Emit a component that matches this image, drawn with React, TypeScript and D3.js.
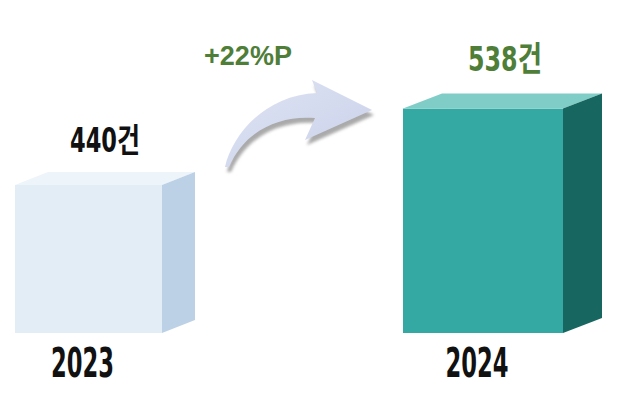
import React from 'react';
import * as d3 from 'd3';

const years = ['2023', '2024'];
const counts = [440, 538];
const valueLabels = ['440건', '538건'];
const changeLabel = '+22%P';

const W = 620;
const H = 407;

// per-bar look (front width, depth offset, face colours)
const barStyles = [
  { width: 147, dx: 33, dy: 13, front: '#e3edf6', top: '#edf4fa', side: '#bcd1e6', label: '#111111', labelWidth: 70 },
  { width: 160, dx: 39, dy: 15, front: '#34a9a4', top: '#80cdc8', side: '#17665f', label: '#4e7e38', labelWidth: 74 },
];

const FONT = "'Liberation Sans Narrow', 'DejaVu Sans Condensed', 'Noto Sans CJK KR', sans-serif";

const App: React.FC = () => {
  const x = d3.scalePoint<string>().domain(years).range([88.5, 483]);
  const y = d3.scaleLinear().domain([250, 540]).range([333, 107]);
  const base = y(250);

  return (
    <svg width={W} height={H} style={{ position: 'absolute', left: 0, top: 0, background: '#ffffff' }}>
      <defs>
        <linearGradient id="arrowFill" x1="0" y1="0" x2="1" y2="1">
          <stop offset="0%" stopColor="#dfe4f3" />
          <stop offset="100%" stopColor="#c9d1ea" />
        </linearGradient>
        <filter id="soft" x="-20%" y="-20%" width="140%" height="140%">
          <feGaussianBlur stdDeviation="1.5" />
        </filter>
      </defs>

      {years.map((yr, i) => {
        const s = barStyles[i];
        const cx = x(yr) ?? 0;
        const x0 = cx - s.width / 2;
        const x1 = cx + s.width / 2;
        const yt = y(counts[i]);
        const top = `M${x0},${yt} L${x0 + s.dx},${yt - s.dy} L${x1 + s.dx},${yt - s.dy} L${x1},${yt} Z`;
        const side = `M${x1},${yt} L${x1 + s.dx},${yt - s.dy} L${x1 + s.dx},${base - s.dy} L${x1},${base} Z`;
        return (
          <g key={yr}>
            <rect x={x0} y={yt} width={s.width} height={base - yt} fill={s.front} />
            <path d={top} fill={s.top} />
            <path d={side} fill={s.side} />
            <text
              x={cx + (i === 0 ? 16.5 : 22)}
              y={yt - (i === 0 ? 33 : 38)}
              textAnchor="middle"
              fontFamily={FONT}
              fontWeight="bold"
              fontSize={i === 0 ? 33 : 34}
              fill={s.label}
              textLength={s.labelWidth}
              lengthAdjust="spacingAndGlyphs"
            >
              {valueLabels[i]}
            </text>
            <text
              x={cx - 6}
              y={377}
              textAnchor="middle"
              fontFamily={FONT}
              fontWeight="bold"
              fontSize={40}
              fill="#111111"
              textLength={63}
              lengthAdjust="spacingAndGlyphs"
            >
              {yr}
            </text>
          </g>
        );
      })}

      <g>
        <path
          d="M225,167 C232,135 265,95 317,93 L312,80 L372,110 L305,140 L315,118 C280,115 245,130 229,167 Z"
          transform="translate(2,5)"
          fill="#8e8e8e"
          opacity={0.75}
          filter="url(#soft)"
        />
        <path
          d="M225,167 C232,135 265,95 317,93 L312,80 L372,110 L305,140 L315,118 C280,115 245,130 229,167 Z"
          fill="url(#arrowFill)"
        />
      </g>

      <text
        x={248}
        y={65}
        textAnchor="middle"
        fontFamily="'Liberation Sans', Arial, sans-serif"
        fontWeight="bold"
        fontSize={27}
        fill="#4e7e38"
      >
        {changeLabel}
      </text>
    </svg>
  );
};

export default App;
